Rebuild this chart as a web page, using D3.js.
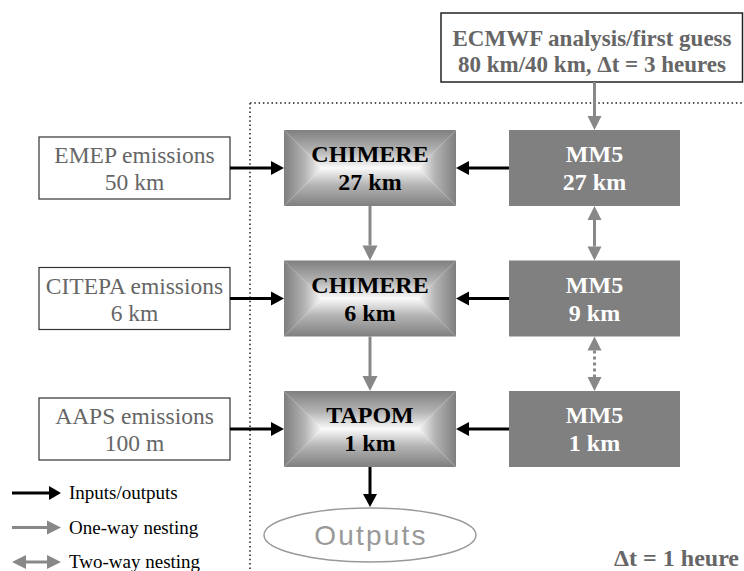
<!DOCTYPE html>
<html lang="en">
<head>
<meta charset="UTF-8">
<title>Nesting diagram</title>
<script src="https://cdn.jsdelivr.net/npm/d3@7"></script>
<style>
    body { margin: 0; background: #fff; }
    svg { display: block; }
    .serif { font-family: "Liberation Serif", "Times New Roman", serif; }
</style>
</head>
<body>
<script>
// diagram content
const emissions = [["EMEP emissions", "50 km"], ["CITEPA emissions", "6 km"], ["AAPS emissions", "100 m"]];
const chemModels = [["CHIMERE", "27 km"], ["CHIMERE", "6 km"], ["TAPOM", "1 km"]];
const metModels = [["MM5", "27 km"], ["MM5", "9 km"], ["MM5", "1 km"]];
const metLinks = ["solid", "dotted"];
const driver = ["ECMWF analysis/first guess", "80 km/40 km, \u0394t = 3 heures"];
const legendItems = ["Inputs/outputs", "One-way nesting", "Two-way nesting"];
const innerStep = "\u0394t = 1 heure";
const outputLabel = "Outputs";

const W = 744, H = 571;
const svg = d3.select("body").append("svg").attr("width", W).attr("height", H);
const defs = svg.append("defs");

// row index -> centre y, column -> centre x
const y = d3.scaleLinear().domain([0, 2]).range([168, 429]);
const x = d3.scaleOrdinal().domain(["emis", "chem", "met"]).range([134.5, 370, 594.5]);

const GRAY = "#888";
const TXT = "#666";

function arrow(g, x1, y1, x2, y2, o) {
    const color = o.color, hl = o.hl || 14, hw = o.hw || 14;
    const dx = x2 - x1, dy = y2 - y1, len = Math.hypot(dx, dy);
    const ux = dx / len, uy = dy / len;
    const s0 = o.both ? hl : 0;
    g.append("line")
        .attr("x1", x1 + ux * s0).attr("y1", y1 + uy * s0)
        .attr("x2", x2 - ux * hl).attr("y2", y2 - uy * hl)
        .attr("stroke", color).attr("stroke-width", o.sw || 3)
        .attr("stroke-dasharray", o.dash || null);
    const head = (tx, ty, ddx, ddy) => {
        const bx = tx - ddx * hl, by = ty - ddy * hl;
        const ppx = -ddy, ppy = ddx;
        g.append("path")
            .attr("d", `M${tx},${ty}L${bx + ppx * hw / 2},${by + ppy * hw / 2}L${bx - ppx * hw / 2},${by - ppy * hw / 2}Z`)
            .attr("fill", color);
    };
    head(x2, y2, ux, uy);
    if (o.both) head(x1, y1, -ux, -uy);
}

// gradients for the chemistry boxes (pyramid shading)
const edge = "#7f7f7f";
function lin(id, x1, y1, x2, y2) {
    const gr = defs.append("linearGradient").attr("id", id)
        .attr("x1", x1).attr("y1", y1).attr("x2", x2).attr("y2", y2);
    gr.append("stop").attr("offset", 0).attr("stop-color", edge);
    gr.append("stop").attr("offset", 0.55).attr("stop-color", "#b4b4b4");
    gr.append("stop").attr("offset", 1).attr("stop-color", "#fafafa");
}
lin("gT", 0, 0, 0, 1); lin("gB", 0, 1, 0, 0); lin("gL", 0, 0, 1, 0); lin("gR", 1, 0, 0, 0);

// dotted frame of the inner domain
const frame = svg.append("g").attr("stroke", "#555").attr("stroke-width", 2).attr("stroke-dasharray", "1.5,2.8");
frame.append("line").attr("x1", 250).attr("y1", 103).attr("x2", W).attr("y2", 103);
frame.append("line").attr("x1", 250).attr("y1", 103).attr("x2", 250).attr("y2", H);

// ECMWF driver box
const drv = svg.append("g");
drv.append("rect").attr("x", 441).attr("y", 13).attr("width", 301.5).attr("height", 69)
    .attr("fill", "#fff").attr("stroke", "#222").attr("stroke-width", 1.5);
drv.selectAll("text").data(driver).join("text")
    .attr("class", "serif").attr("x", 592).attr("y", (d, i) => 46 + i * 26)
    .attr("text-anchor", "middle").attr("font-weight", "bold").attr("font-size", 23)
    .attr("fill", TXT).text(d => d);
arrow(svg, x("met"), 82, x("met"), 130, { color: GRAY, hl: 14, hw: 14 });

const boxW = { emis: 191, chem: 172, met: 171 };
const boxH = { emis: 62, chem: 76, met: 76 };

// emission boxes
const em = svg.selectAll("g.emis").data(emissions).join("g").attr("class", "emis");
em.append("rect")
    .attr("x", x("emis") - boxW.emis / 2).attr("y", (d, i) => y(i) - boxH.emis / 2)
    .attr("width", boxW.emis).attr("height", boxH.emis)
    .attr("fill", "#fff").attr("stroke", "#333").attr("stroke-width", 1.2);
em.each(function (d, i) {
    d3.select(this).selectAll("text").data(d).join("text")
        .attr("class", "serif").attr("x", x("emis")).attr("y", (t, j) => y(i) - 5 + j * 27)
        .attr("text-anchor", "middle").attr("font-size", 23.5).attr("fill", TXT).text(t => t);
});

// chemistry boxes
const ch = svg.selectAll("g.chem").data(chemModels).join("g").attr("class", "chem");
ch.each(function (d, i) {
    const g = d3.select(this);
    const x0 = x("chem") - boxW.chem / 2, x1 = x0 + boxW.chem;
    const y0 = y(i) - boxH.chem / 2, y1 = y0 + boxH.chem, cy = y(i), h2 = boxH.chem / 2;
    g.append("path").attr("d", `M${x0},${y0}L${x1},${y0}L${x1 - h2},${cy}L${x0 + h2},${cy}Z`).attr("fill", "url(#gT)");
    g.append("path").attr("d", `M${x0},${y1}L${x1},${y1}L${x1 - h2},${cy}L${x0 + h2},${cy}Z`).attr("fill", "url(#gB)");
    g.append("path").attr("d", `M${x0},${y0}L${x0 + h2},${cy}L${x0},${y1}Z`).attr("fill", "url(#gL)");
    g.append("path").attr("d", `M${x1},${y0}L${x1 - h2},${cy}L${x1},${y1}Z`).attr("fill", "url(#gR)");
    g.selectAll("text").data(d).join("text")
        .attr("class", "serif").attr("x", x("chem")).attr("y", (t, j) => y(i) - 6 + j * 28)
        .attr("text-anchor", "middle").attr("font-weight", "bold").attr("font-size", 24)
        .attr("fill", "#000").text(t => t);
});

// meteorology boxes
const mt = svg.selectAll("g.met").data(metModels).join("g").attr("class", "met");
mt.append("rect")
    .attr("x", x("met") - boxW.met / 2).attr("y", (d, i) => y(i) - boxH.met / 2)
    .attr("width", boxW.met).attr("height", boxH.met).attr("fill", "#808080");
mt.each(function (d, i) {
    d3.select(this).selectAll("text").data(d).join("text")
        .attr("class", "serif").attr("x", x("met")).attr("y", (t, j) => y(i) - 6 + j * 28)
        .attr("text-anchor", "middle").attr("font-weight", "bold").attr("font-size", 24)
        .attr("fill", "#fff").text(t => t);
});

// arrows between rows
const links = svg.append("g");
emissions.forEach((d, i) => {
    arrow(links, x("emis") + boxW.emis / 2, y(i), x("chem") - boxW.chem / 2, y(i), { color: "#000", hl: 13, hw: 14 });
    arrow(links, x("met") - boxW.met / 2, y(i), x("chem") + boxW.chem / 2, y(i), { color: "#000", hl: 13, hw: 14 });
});
metLinks.forEach((kind, i) => {
    arrow(links, x("chem"), y(i) + boxH.chem / 2, x("chem"), y(i + 1) - boxH.chem / 2, { color: GRAY, hl: 15, hw: 15 });
    arrow(links, x("met"), y(i) + boxH.met / 2, x("met"), y(i + 1) - boxH.met / 2,
        { color: GRAY, hl: 14, hw: 14, both: true, dash: kind === "dotted" ? "3,3" : null });
});

// outputs
arrow(links, x("chem"), y(2) + boxH.chem / 2, x("chem"), 507, { color: "#000", hl: 13, hw: 14 });
svg.append("ellipse").attr("cx", x("chem")).attr("cy", 535).attr("rx", 106).attr("ry", 27)
    .attr("fill", "#fff").attr("stroke", "#999").attr("stroke-width", 1.5);
svg.append("text").attr("x", x("chem") + 1).attr("y", 545).attr("text-anchor", "middle")
    .attr("font-family", "Liberation Sans, Arial, sans-serif").attr("font-size", 28)
    .attr("letter-spacing", 2.2).attr("fill", "#999").text(outputLabel);

// legend
const lg = svg.append("g");
const legendY = d3.scaleLinear().domain([0, 2]).range([493, 562]);
legendItems.forEach((t, i) => {
    const c = i === 0 ? "#000" : GRAY;
    arrow(lg, 12, legendY(i), 61, legendY(i), { color: c, hl: i === 0 ? 12 : 14, hw: 14, both: i === 2 });
    lg.append("text").attr("class", "serif").attr("x", 69).attr("y", legendY(i) + 6)
        .attr("font-size", 19).attr("fill", "#000").text(t);
});

svg.append("text").attr("class", "serif").attr("x", 739).attr("y", 566).attr("text-anchor", "end")
    .attr("font-weight", "bold").attr("font-size", 24).attr("fill", TXT).text(innerStep);
</script>
</body>
</html>
